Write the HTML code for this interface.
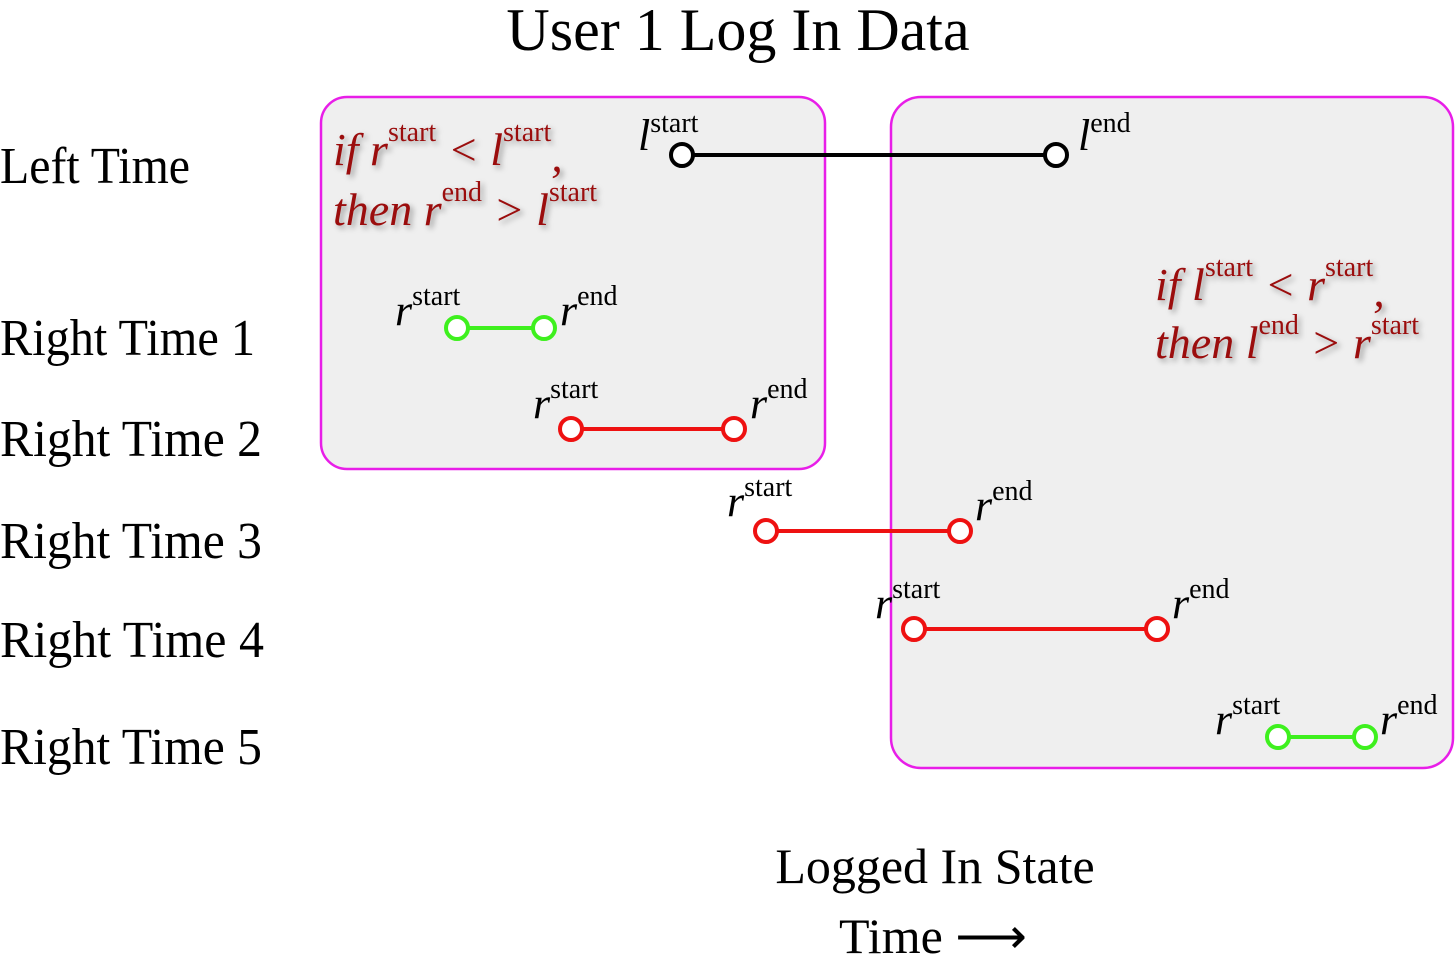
<!DOCTYPE html>
<html><head><style>
html,body{margin:0;padding:0;background:#fff;width:1456px;height:956px;overflow:hidden}
svg text{font-family:"Liberation Serif",serif}
.r{fill:#9b0d0d;font-style:italic;filter:drop-shadow(3px 3px 3px rgba(0,0,0,.35))}
</style></head><body>
<svg width="1456" height="956" xmlns="http://www.w3.org/2000/svg">
<rect x="321" y="97" width="504" height="372" rx="26" fill="#efefef" stroke="#e81ee8" stroke-width="2.5"/>
<rect x="891" y="97" width="562" height="671" rx="30" fill="#efefef" stroke="#e81ee8" stroke-width="2.5"/>
<text x="738" y="50" font-size="60" text-anchor="middle">User 1 Log In Data</text>
<g font-size="52">
<text x="0" y="183" textLength="190" lengthAdjust="spacingAndGlyphs">Left Time</text>
<text x="0" y="355" textLength="255" lengthAdjust="spacingAndGlyphs">Right Time 1</text>
<text x="0" y="456" textLength="262" lengthAdjust="spacingAndGlyphs">Right Time 2</text>
<text x="0" y="558" textLength="262" lengthAdjust="spacingAndGlyphs">Right Time 3</text>
<text x="0" y="657" textLength="264" lengthAdjust="spacingAndGlyphs">Right Time 4</text>
<text x="0" y="764" textLength="262" lengthAdjust="spacingAndGlyphs">Right Time 5</text>
</g>
<g font-size="46" class="r">
<text x="333" y="165">if r<tspan font-size="28" dy="-24" font-style="normal">start</tspan><tspan dy="24"> &lt; l</tspan><tspan font-size="28" dy="-24" font-style="normal">start</tspan><tspan dy="30">,</tspan></text>
<text x="333" y="225">then r<tspan font-size="28" dy="-24" font-style="normal">end</tspan><tspan dy="24"> &gt; l</tspan><tspan font-size="28" dy="-24" font-style="normal">start</tspan></text>
<text x="1155" y="300">if l<tspan font-size="28" dy="-24" font-style="normal">start</tspan><tspan dy="24"> &lt; r</tspan><tspan font-size="28" dy="-24" font-style="normal">start</tspan><tspan dy="30">,</tspan></text>
<text x="1155" y="358">then l<tspan font-size="28" dy="-24" font-style="normal">end</tspan><tspan dy="24"> &gt; r</tspan><tspan font-size="28" dy="-24" font-style="normal">start</tspan></text>
</g>
<g stroke-width="4" fill="none">
<line x1="682" y1="155" x2="1056" y2="155" stroke="#000"/>
<circle cx="682" cy="155" r="11" stroke="#000" fill="#fff"/><circle cx="1056" cy="155" r="11" stroke="#000" fill="#fff"/>
<line x1="457" y1="328" x2="544" y2="328" stroke="#3ef01e"/>
<circle cx="457" cy="328" r="11" stroke="#3ef01e" fill="#fff"/><circle cx="544" cy="328" r="11" stroke="#3ef01e" fill="#fff"/>
<line x1="571" y1="429" x2="734" y2="429" stroke="#ee1111"/>
<circle cx="571" cy="429" r="11" stroke="#ee1111" fill="#fff"/><circle cx="734" cy="429" r="11" stroke="#ee1111" fill="#fff"/>
<line x1="766" y1="531" x2="960" y2="531" stroke="#ee1111"/>
<circle cx="766" cy="531" r="11" stroke="#ee1111" fill="#fff"/><circle cx="960" cy="531" r="11" stroke="#ee1111" fill="#fff"/>
<line x1="914" y1="629" x2="1157" y2="629" stroke="#ee1111"/>
<circle cx="914" cy="629" r="11" stroke="#ee1111" fill="#fff"/><circle cx="1157" cy="629" r="11" stroke="#ee1111" fill="#fff"/>
<line x1="1278" y1="737" x2="1365" y2="737" stroke="#3ef01e"/>
<circle cx="1278" cy="737" r="11" stroke="#3ef01e" fill="#fff"/><circle cx="1365" cy="737" r="11" stroke="#3ef01e" fill="#fff"/>
</g>
<g font-size="44" font-style="italic">
<text x="638" y="150">l<tspan font-size="28" font-style="normal" dy="-18">start</tspan></text>
<text x="1078" y="150">l<tspan font-size="28" font-style="normal" dy="-18">end</tspan></text>
<text x="395" y="325">r<tspan font-size="28" font-style="normal" dy="-20">start</tspan></text>
<text x="560" y="325">r<tspan font-size="28" font-style="normal" dy="-20">end</tspan></text>
<text x="533" y="418">r<tspan font-size="28" font-style="normal" dy="-20">start</tspan></text>
<text x="750" y="418">r<tspan font-size="28" font-style="normal" dy="-20">end</tspan></text>
<text x="727" y="516">r<tspan font-size="28" font-style="normal" dy="-20">start</tspan></text>
<text x="975" y="520">r<tspan font-size="28" font-style="normal" dy="-20">end</tspan></text>
<text x="875" y="618">r<tspan font-size="28" font-style="normal" dy="-20">start</tspan></text>
<text x="1172" y="618">r<tspan font-size="28" font-style="normal" dy="-20">end</tspan></text>
<text x="1215" y="734">r<tspan font-size="28" font-style="normal" dy="-20">start</tspan></text>
<text x="1380" y="734">r<tspan font-size="28" font-style="normal" dy="-20">end</tspan></text>
</g>
<text x="935" y="883" font-size="50" text-anchor="middle">Logged In State</text>
<text x="933" y="953" font-size="50" text-anchor="middle">Time ⟶</text>
</svg>
</body></html>
